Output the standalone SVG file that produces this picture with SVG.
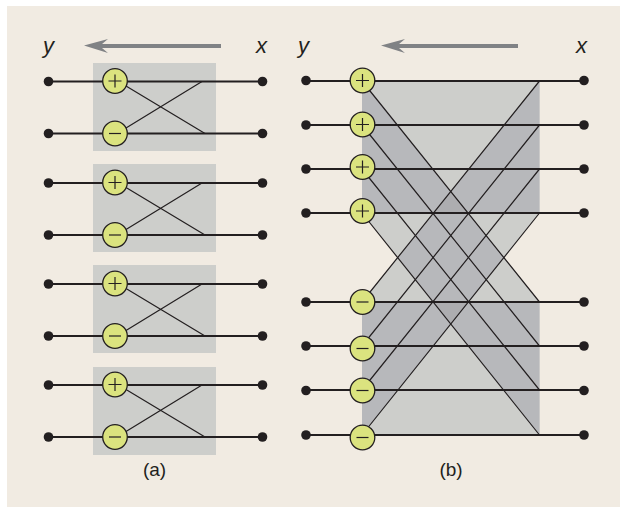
<svg xmlns="http://www.w3.org/2000/svg" width="620" height="507" viewBox="0 0 620 507">
<style>
.w{stroke:#231f20;stroke-width:1.9;fill:none}
.t{stroke:#231f20;stroke-width:1.2;fill:none}
.d{fill:#231f20}
.b{fill:#cdcecb}
.o{fill:#b7b8bb}
.o2{fill:#adadb0}
.n{fill:#dbe37f;stroke:#231f20;stroke-width:1.3}
.s{stroke:#231f20;stroke-width:1.2;fill:none}
.a{fill:#808285}
text{font-family:"Liberation Sans",Arial,sans-serif;fill:#231f20}
.v{font-size:22px;font-style:italic}
.c{font-size:19px;text-anchor:middle}
</style>
<defs>
<g id="p"><circle class="n" r="12.3"/><path class="s" d="M-6.500 0H6.500M0-6.500V6.500"/></g>
<g id="m"><circle class="n" r="12.3"/><path class="s" d="M-6 0H6"/></g>
<g id="u">
<path class="w" d="M48 18.500H262M48 70.500H262"/>
<path class="t" d="M126 23L205 70.500M126 65L202 18.500"/>
<circle class="d" cx="48.500" cy="18.500" r="4.800"/><circle class="d" cx="262.500" cy="18.500" r="4.800"/>
<circle class="d" cx="48.500" cy="70.500" r="4.800"/><circle class="d" cx="262.500" cy="70.500" r="4.800"/>
<use href="#p" x="115" y="18"/><use href="#m" x="115" y="70.500"/>
</g>
</defs>
<rect width="620" height="507" fill="#fff"/>
<rect x="7" y="6" width="613" height="501" fill="#f1ebe2"/>
<g id="arrow-a"><path class="a" d="M84 45.500L108 39L102 44H221V48H102L108 53Z"/></g>
<g id="arrow-b"><path class="a" d="M381 45.500L405 39L399 44H518V48H399L405 53Z"/></g>
<text class="v" x="43" y="53">y</text><text class="v" x="256" y="53">x</text>
<text class="v" x="298" y="53">y</text><text class="v" x="576" y="53">x</text>
<g id="butterfly-1"><rect class="b" x="93" y="63" width="123" height="88"/><use href="#u" y="63"/></g>
<g id="butterfly-2"><rect class="b" x="93" y="164" width="123" height="88"/><use href="#u" y="164.500"/></g>
<g id="butterfly-3"><rect class="b" x="93" y="265" width="123" height="88"/><use href="#u" y="265.500"/></g>
<g id="butterfly-4"><rect class="b" x="93" y="367" width="123" height="88"/><use href="#u" y="366.500"/></g>
<text class="c" x="154.500" y="476">(a)</text>
<g id="shade-b">
<path class="b" d="M362 81H539.500V213L504.300 257.300L539.500 302V435H362V302L397.700 257.300L362 213Z"/>
<path class="o" d="M362 81L451 191.500L539.500 81V213H362Z"/>
<path class="o" d="M397.700 257.300L433.500 213H468L504.300 257.300L468 302H433.500Z"/>
<path class="o" d="M362 302H539.500V435L451 324L362 435Z"/>
<path class="o2" d="M451 191.500L433.500 213H468ZM433.500 302H468L451 324Z"/>
</g>
<g id="connectors-b">
<path class="w" d="M306 81H584M306 125H584M306 169H584M306 213H584M306 302H584M306 346H584M306 390H584M306 435H584"/>
<path class="t" d="M362 81L539.500 302M362 125L539.500 346M362 169L539.500 390M362 213L539.500 435"/>
<path class="t" d="M362 302L539.500 81M362 346L539.500 125M362 390L539.500 169M362 435L539.500 213"/>
</g>
<g id="terminals-b">
<circle class="d" cx="306" cy="80.500" r="4.800"/><circle class="d" cx="584" cy="80.500" r="4.800"/>
<circle class="d" cx="306" cy="125" r="4.800"/><circle class="d" cx="584" cy="125" r="4.800"/>
<circle class="d" cx="306" cy="169" r="4.800"/><circle class="d" cx="584" cy="169" r="4.800"/>
<circle class="d" cx="306" cy="213" r="4.800"/><circle class="d" cx="584" cy="213" r="4.800"/>
<circle class="d" cx="306" cy="302" r="4.800"/><circle class="d" cx="584" cy="302" r="4.800"/>
<circle class="d" cx="306" cy="346" r="4.800"/><circle class="d" cx="584" cy="346" r="4.800"/>
<circle class="d" cx="306" cy="390.500" r="4.800"/><circle class="d" cx="584" cy="390.500" r="4.800"/>
<circle class="d" cx="306" cy="435" r="4.800"/><circle class="d" cx="584" cy="435" r="4.800"/>
</g>
<g id="add-1"><use href="#p" x="362.500" y="80.500"/></g>
<g id="add-2"><use href="#p" x="362.500" y="124.500"/></g>
<g id="add-3"><use href="#p" x="362.500" y="167"/></g>
<g id="add-4"><use href="#p" x="362.500" y="211"/></g>
<g id="sub-1"><use href="#m" x="362.500" y="302"/></g>
<g id="sub-2"><use href="#m" x="362.500" y="348.500"/></g>
<g id="sub-3"><use href="#m" x="362.500" y="390.500"/></g>
<g id="sub-4"><use href="#m" x="362.500" y="437.500"/></g>
<text class="c" x="451" y="476">(b)</text>
</svg>
